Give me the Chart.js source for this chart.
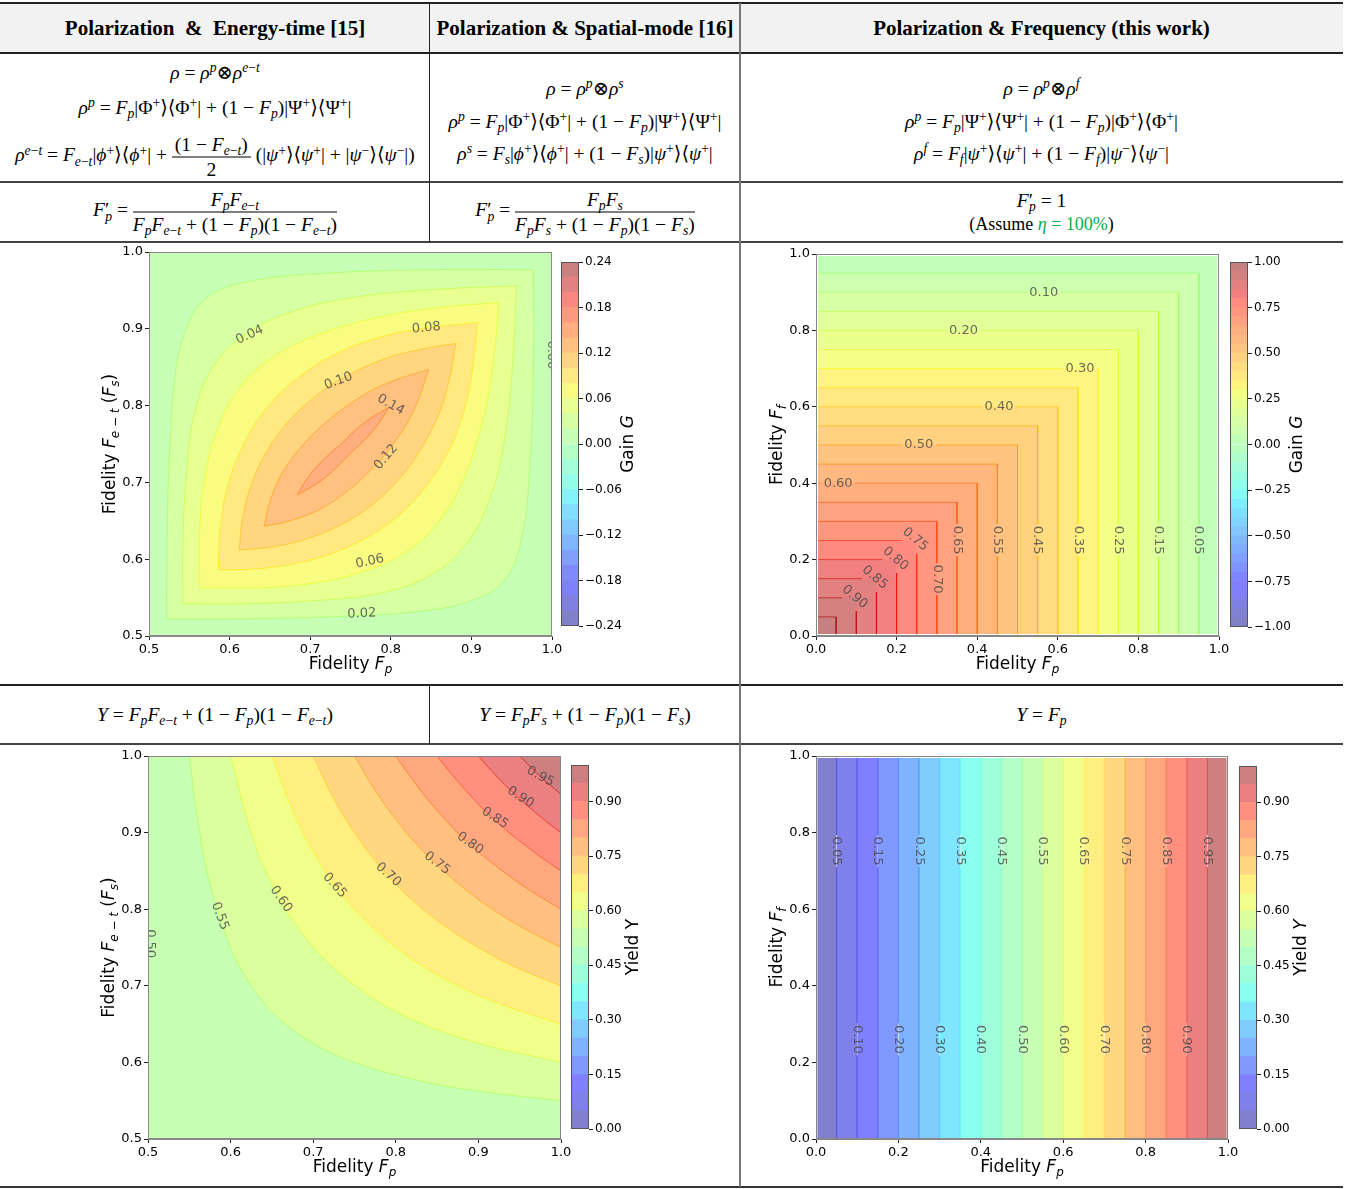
<!DOCTYPE html>
<html>
<head>
<meta charset="utf-8">
<script src="https://cdn.jsdelivr.net/npm/chart.js@4.4.0/dist/chart.umd.min.js"></script>
<style>
  body { margin: 0; background: #fff; }
  #fig { position: relative; width: 1361px; height: 1189px; background: #fff; overflow: hidden; }
  .ln { position: absolute; transform: translateY(-50%); text-align: center; white-space: nowrap; }
  .hd { font-family: "Liberation Serif", "DejaVu Serif", serif; font-weight: bold; font-size: 21px; }
  .eq { font-family: "Liberation Serif", "DejaVu Serif", serif; font-size: 19.5px; color: #000; }
  .eq sup, .eq sub { font-size: 70%; line-height: 0; position: relative; vertical-align: baseline; }
  .eq sup { top: -0.5em; }
  .eq sub { top: 0.3em; }
  .frac { display: inline-flex; flex-direction: column; vertical-align: middle; text-align: center; }
  .frac > span:first-child { border-bottom: 1px solid #000; padding: 0 3px 1px; }
  .frac > span:last-child { padding-top: 1px; }
  .hl { position: absolute; left: 0; width: 1343px; }
  .vl { position: absolute; }
  canvas { position: absolute; }
</style>
</head>
<body>
<div id="fig">
  <!-- table lines -->
  <div class="hl" style="top:4px;height:48px;background:#f2f2f2"></div>
  <div class="hl" style="top:2px;height:2px;background:#222"></div>
  <div class="hl" style="top:52px;height:2px;background:#222"></div>
  <div class="hl" style="top:181px;height:2px;background:#444"></div>
  <div class="hl" style="top:241px;height:2px;background:#444"></div>
  <div class="hl" style="top:684px;height:2px;background:#222"></div>
  <div class="hl" style="top:743px;height:2px;background:#444"></div>
  <div class="hl" style="top:1186px;height:2px;background:#333"></div>
  <div class="vl" style="left:429px;top:3px;width:1px;height:240px;background:#222"></div>
  <div class="vl" style="left:429px;top:685px;width:1px;height:59px;background:#222"></div>
  <div class="vl" style="left:739px;top:3px;width:2px;height:1184px;background:#777"></div>

  <!-- header -->
  <div class="ln hd" style="left:0;width:430px;top:28px">Polarization&nbsp; &amp;&nbsp; Energy-time [15]</div>
  <div class="ln hd" style="left:430px;width:310px;top:28px">Polarization &amp; Spatial-mode [16]</div>
  <div class="ln hd" style="left:740px;width:603px;top:28px">Polarization &amp; Frequency (this work)</div>

  <!-- density matrices -->
  <div class="ln eq" style="left:0;width:430px;top:72px"><i>ρ</i> = <i>ρ</i><sup><i>p</i></sup>⊗<i>ρ</i><sup><i>e</i>−<i>t</i></sup></div>
  <div class="ln eq" style="left:0;width:430px;top:107px"><i>ρ</i><sup><i>p</i></sup> = <i>F</i><sub><i>p</i></sub>|Φ<sup>+</sup>⟩⟨Φ<sup>+</sup>| + (1 − <i>F</i><sub><i>p</i></sub>)|Ψ<sup>+</sup>⟩⟨Ψ<sup>+</sup>|</div>
  <div class="ln eq" style="left:0;width:430px;top:157px"><i>ρ</i><sup><i>e</i>−<i>t</i></sup> = <i>F</i><sub><i>e</i>−<i>t</i></sub>|<i>ϕ</i><sup>+</sup>⟩⟨<i>ϕ</i><sup>+</sup>| + <span class="frac"><span>(1 − <i>F</i><sub><i>e</i>−<i>t</i></sub>)</span><span>2</span></span> (|<i>ψ</i><sup>+</sup>⟩⟨<i>ψ</i><sup>+</sup>| + |<i>ψ</i><sup>−</sup>⟩⟨<i>ψ</i><sup>−</sup>|)</div>

  <div class="ln eq" style="left:430px;width:310px;top:88px"><i>ρ</i> = <i>ρ</i><sup><i>p</i></sup>⊗<i>ρ</i><sup><i>s</i></sup></div>
  <div class="ln eq" style="left:430px;width:310px;top:121px"><i>ρ</i><sup><i>p</i></sup> = <i>F</i><sub><i>p</i></sub>|Φ<sup>+</sup>⟩⟨Φ<sup>+</sup>| + (1 − <i>F</i><sub><i>p</i></sub>)|Ψ<sup>+</sup>⟩⟨Ψ<sup>+</sup>|</div>
  <div class="ln eq" style="left:430px;width:310px;top:153px"><i>ρ</i><sup><i>s</i></sup> = <i>F</i><sub><i>s</i></sub>|<i>ϕ</i><sup>+</sup>⟩⟨<i>ϕ</i><sup>+</sup>| + (1 − <i>F</i><sub><i>s</i></sub>)|<i>ψ</i><sup>+</sup>⟩⟨<i>ψ</i><sup>+</sup>|</div>

  <div class="ln eq" style="left:740px;width:603px;top:88px"><i>ρ</i> = <i>ρ</i><sup><i>p</i></sup>⊗<i>ρ</i><sup><i>f</i></sup></div>
  <div class="ln eq" style="left:740px;width:603px;top:121px"><i>ρ</i><sup><i>p</i></sup> = <i>F</i><sub><i>p</i></sub>|Ψ<sup>+</sup>⟩⟨Ψ<sup>+</sup>| + (1 − <i>F</i><sub><i>p</i></sub>)|Φ<sup>+</sup>⟩⟨Φ<sup>+</sup>|</div>
  <div class="ln eq" style="left:740px;width:603px;top:153px"><i>ρ</i><sup><i>f</i></sup> = <i>F</i><sub><i>f</i></sub>|<i>ψ</i><sup>+</sup>⟩⟨<i>ψ</i><sup>+</sup>| + (1 − <i>F</i><sub><i>f</i></sub>)|<i>ψ</i><sup>−</sup>⟩⟨<i>ψ</i><sup>−</sup>|</div>

  <!-- purified fidelity -->
  <div class="ln eq" style="left:0;width:430px;top:212px"><i>F</i>′<sub style="margin-left:-4px"><i>p</i></sub> = <span class="frac"><span><i>F</i><sub><i>p</i></sub><i>F</i><sub><i>e</i>−<i>t</i></sub></span><span><i>F</i><sub><i>p</i></sub><i>F</i><sub><i>e</i>−<i>t</i></sub> + (1 − <i>F</i><sub><i>p</i></sub>)(1 − <i>F</i><sub><i>e</i>−<i>t</i></sub>)</span></span></div>
  <div class="ln eq" style="left:430px;width:310px;top:212px"><i>F</i>′<sub style="margin-left:-4px"><i>p</i></sub> = <span class="frac"><span><i>F</i><sub><i>p</i></sub><i>F</i><sub><i>s</i></sub></span><span><i>F</i><sub><i>p</i></sub><i>F</i><sub><i>s</i></sub> + (1 − <i>F</i><sub><i>p</i></sub>)(1 − <i>F</i><sub><i>s</i></sub>)</span></span></div>
  <div class="ln eq" style="left:740px;width:603px;top:201px"><i>F</i>′<sub style="margin-left:-4px"><i>p</i></sub> = 1</div>
  <div class="ln eq" style="left:740px;width:603px;top:224px;font-size:18px">(Assume <span style="color:#00b050"><i>η</i> = 100%</span>)</div>

  <!-- yield -->
  <div class="ln eq" style="left:0;width:430px;top:715px"><i>Y</i> = <i>F</i><sub><i>p</i></sub><i>F</i><sub><i>e</i>−<i>t</i></sub> + (1 − <i>F</i><sub><i>p</i></sub>)(1 − <i>F</i><sub><i>e</i>−<i>t</i></sub>)</div>
  <div class="ln eq" style="left:430px;width:310px;top:715px"><i>Y</i> = <i>F</i><sub><i>p</i></sub><i>F</i><sub><i>s</i></sub> + (1 − <i>F</i><sub><i>p</i></sub>)(1 − <i>F</i><sub><i>s</i></sub>)</div>
  <div class="ln eq" style="left:740px;width:603px;top:715px"><i>Y</i> = <i>F</i><sub><i>p</i></sub></div>

  <!-- charts -->
  <canvas id="gainET" width="472" height="442" style="left:94px;top:242px"></canvas>
  <canvas id="gainETbar" width="80" height="384" style="left:561px;top:252px"></canvas>
  <canvas id="gainFreq" width="472" height="440" style="left:761px;top:244px"></canvas>
  <canvas id="gainFreqBar" width="80" height="385" style="left:1230px;top:252px"></canvas>
  <canvas id="yieldET" width="482" height="441" style="left:93px;top:746px"></canvas>
  <canvas id="yieldETbar" width="80" height="384" style="left:571px;top:755px"></canvas>
  <canvas id="yieldFreq" width="481" height="441" style="left:761px;top:746px"></canvas>
  <canvas id="yieldFreqBar" width="80" height="383" style="left:1239px;top:756px"></canvas>
</div>

<script>
// ---------- gain G, energy-time / spatial-mode (closed contours) ----------
const gainETLevels = [0.02, 0.04, 0.06, 0.08, 0.10, 0.12, 0.14];
const gainET02 = [[0.522,0.522],[0.522,0.575],[0.523,0.662],[0.526,0.749],[0.532,0.836],[0.545,0.897],[0.571,0.940],[0.625,0.962],[0.729,0.973],[0.852,0.977],[0.977,0.977],[0.977,0.977],[0.977,0.852],[0.973,0.729],[0.962,0.625],[0.940,0.571],[0.897,0.545],[0.836,0.532],[0.749,0.526],[0.662,0.523],[0.575,0.522],[0.522,0.522]];
const gainET04 = [[0.542,0.542],[0.542,0.618],[0.546,0.705],[0.555,0.783],[0.576,0.844],[0.613,0.888],[0.671,0.920],[0.749,0.940],[0.852,0.951],[0.956,0.956],[0.956,0.956],[0.951,0.852],[0.940,0.749],[0.920,0.671],[0.888,0.613],[0.844,0.576],[0.783,0.555],[0.705,0.546],[0.618,0.542],[0.542,0.542]];
const gainET06 = [[0.563,0.563],[0.563,0.640],[0.569,0.705],[0.584,0.766],[0.609,0.818],[0.646,0.857],[0.704,0.890],[0.790,0.916],[0.873,0.929],[0.934,0.934],[0.934,0.934],[0.929,0.873],[0.916,0.790],[0.890,0.704],[0.857,0.646],[0.818,0.609],[0.766,0.584],[0.705,0.569],[0.640,0.563],[0.563,0.563]];
const gainET08 = [[0.586,0.586],[0.588,0.640],[0.598,0.697],[0.617,0.749],[0.646,0.797],[0.687,0.838],[0.737,0.870],[0.790,0.890],[0.844,0.901],[0.908,0.908],[0.908,0.908],[0.901,0.844],[0.890,0.790],[0.870,0.737],[0.838,0.687],[0.797,0.646],[0.749,0.617],[0.697,0.598],[0.640,0.588],[0.586,0.586]];
const gainET10 = [[0.612,0.612],[0.616,0.653],[0.627,0.697],[0.646,0.740],[0.671,0.777],[0.704,0.810],[0.741,0.836],[0.790,0.860],[0.836,0.873],[0.881,0.881],[0.881,0.881],[0.873,0.836],[0.860,0.790],[0.836,0.741],[0.810,0.704],[0.777,0.671],[0.740,0.646],[0.697,0.627],[0.653,0.616],[0.612,0.612]];
const gainET12 = [[0.643,0.643],[0.650,0.675],[0.664,0.710],[0.687,0.744],[0.716,0.775],[0.753,0.805],[0.795,0.829],[0.847,0.847],[0.847,0.847],[0.829,0.795],[0.805,0.753],[0.775,0.716],[0.744,0.687],[0.710,0.664],[0.675,0.650],[0.643,0.643]];
const gainET14 = [[0.684,0.684],[0.695,0.703],[0.712,0.725],[0.737,0.749],[0.766,0.777],[0.798,0.798],[0.798,0.798],[0.777,0.766],[0.749,0.737],[0.725,0.712],[0.703,0.695],[0.684,0.684]];
const gainETLabelText = ['0.02', '0.04', '0.06', '0.08', '0.10', '0.12', '0.14', '0.00'];
const gainETLabelX = [0.764, 0.625, 0.774, 0.844, 0.735, 0.794, 0.800, 0.999];
const gainETLabelY = [0.529, 0.892, 0.597, 0.901, 0.832, 0.733, 0.801, 0.866];
const gainETLabelAngle = [-3, -25, -12, -5, -20, -50, 30, 90];
const gainETBands = [-0.24, -0.22, -0.20, -0.18, -0.16, -0.14, -0.12, -0.10, -0.08, -0.06, -0.04, -0.02, 0, 0.02, 0.04, 0.06, 0.08, 0.10, 0.12, 0.14, 0.16, 0.18, 0.20, 0.22, 0.24];
const gainETTicks = [-0.24, -0.18, -0.12, -0.06, 0, 0.06, 0.12, 0.18, 0.24];

// ---------- gain G, frequency (this work) ----------
const gainFreqLevels = [0.05, 0.10, 0.15, 0.20, 0.25, 0.30, 0.35, 0.40, 0.45, 0.50, 0.55, 0.60, 0.65, 0.70, 0.75, 0.80, 0.85, 0.90, 0.95];
const gainFreqEdges = [0.95, 0.90, 0.85, 0.80, 0.75, 0.70, 0.65, 0.60, 0.55, 0.50, 0.45, 0.40, 0.35, 0.30, 0.25, 0.20, 0.15, 0.10, 0.05];
const gainFreqLabelText = ['0.10', '0.20', '0.30', '0.40', '0.50', '0.60', '0.05', '0.15', '0.25', '0.35', '0.45', '0.55', '0.65', '0.70', '0.75', '0.80', '0.85', '0.90'];
const gainFreqLabelX = [0.565, 0.366, 0.655, 0.454, 0.255, 0.055, 0.95, 0.85, 0.75, 0.65, 0.55, 0.45, 0.35, 0.30, 0.246, 0.197, 0.146, 0.096];
const gainFreqLabelY = [0.90, 0.80, 0.70, 0.60, 0.50, 0.40, 0.251, 0.251, 0.251, 0.251, 0.251, 0.251, 0.251, 0.149, 0.253, 0.202, 0.153, 0.102];
const gainFreqLabelAngle = [0, 0, 0, 0, 0, 0, 90, 90, 90, 90, 90, 90, 90, 90, 40, 40, 40, 40];
const gainFreqBands = [-1, -0.95, -0.9, -0.85, -0.8, -0.75, -0.7, -0.65, -0.6, -0.55, -0.5, -0.45, -0.4, -0.35, -0.3, -0.25, -0.2, -0.15, -0.1, -0.05, 0, 0.05, 0.1, 0.15, 0.2, 0.25, 0.3, 0.35, 0.4, 0.45, 0.5, 0.55, 0.6, 0.65, 0.7, 0.75, 0.8, 0.85, 0.9, 0.95, 1];
const gainFreqTicks = [-1, -0.75, -0.5, -0.25, 0, 0.25, 0.5, 0.75, 1];

// ---------- yield Y, energy-time / spatial-mode ----------
const yieldETLevels = [0.55, 0.60, 0.65, 0.70, 0.75, 0.80, 0.85, 0.90, 0.95];
const yieldET55 = [[0.550,1.0],[0.560,0.917],[0.575,0.833],[0.600,0.750],[0.625,0.700],[0.658,0.658],[0.700,0.625],[0.750,0.600],[0.833,0.575],[0.917,0.560],[1.0,0.550]];
const yieldET60 = [[0.600,1.0],[0.625,0.900],[0.650,0.833],[0.680,0.778],[0.724,0.724],[0.778,0.680],[0.833,0.650],[0.900,0.625],[1.0,0.600]];
const yieldET65 = [[0.650,1.0],[0.675,0.929],[0.700,0.875],[0.735,0.819],[0.774,0.774],[0.819,0.735],[0.875,0.700],[0.929,0.675],[1.0,0.650]];
const yieldET70 = [[0.700,1.0],[0.725,0.944],[0.750,0.900],[0.780,0.857],[0.816,0.816],[0.857,0.780],[0.900,0.750],[0.944,0.725],[1.0,0.700]];
const yieldET75 = [[0.750,1.0],[0.775,0.955],[0.800,0.917],[0.825,0.885],[0.854,0.854],[0.885,0.825],[0.917,0.800],[0.955,0.775],[1.0,0.750]];
const yieldET80 = [[0.800,1.0],[0.825,0.962],[0.850,0.929],[0.887,0.887],[0.929,0.850],[0.962,0.825],[1.0,0.800]];
const yieldET85 = [[0.850,1.0],[0.875,0.967],[0.918,0.918],[0.967,0.875],[1.0,0.850]];
const yieldET90 = [[0.900,1.0],[0.920,0.976],[0.947,0.947],[0.976,0.920],[1.0,0.900]];
const yieldET95 = [[0.950,1.0],[0.962,0.987],[0.974,0.974],[0.987,0.962],[1.0,0.950]];
const yieldETLabelText = ['0.50', '0.55', '0.60', '0.65', '0.70', '0.75', '0.80', '0.85', '0.90', '0.95'];
const yieldETLabelX = [0.503, 0.587, 0.661, 0.726, 0.791, 0.850, 0.890, 0.920, 0.951, 0.975];
const yieldETLabelY = [0.755, 0.791, 0.813, 0.831, 0.845, 0.860, 0.886, 0.919, 0.946, 0.973];
const yieldETLabelAngle = [90, 70, 55, 48, 42, 38, 35, 33, 32, 28];

// ---------- yield Y, frequency (this work) ----------
const yieldFreqLevels = [0.05, 0.10, 0.15, 0.20, 0.25, 0.30, 0.35, 0.40, 0.45, 0.50, 0.55, 0.60, 0.65, 0.70, 0.75, 0.80, 0.85, 0.90, 0.95];
const yieldFreqEdges = [0.05, 0.10, 0.15, 0.20, 0.25, 0.30, 0.35, 0.40, 0.45, 0.50, 0.55, 0.60, 0.65, 0.70, 0.75, 0.80, 0.85, 0.90, 0.95];
const yieldFreqLabelText = ['0.05', '0.15', '0.25', '0.35', '0.45', '0.55', '0.65', '0.75', '0.85', '0.95', '0.10', '0.20', '0.30', '0.40', '0.50', '0.60', '0.70', '0.80', '0.90'];
const yieldFreqLabelX = [0.05, 0.15, 0.25, 0.35, 0.45, 0.55, 0.65, 0.75, 0.85, 0.95, 0.10, 0.20, 0.30, 0.40, 0.50, 0.60, 0.70, 0.80, 0.90];
const yieldFreqLabelY = [0.752, 0.752, 0.752, 0.752, 0.752, 0.752, 0.752, 0.752, 0.752, 0.752, 0.26, 0.26, 0.26, 0.26, 0.26, 0.26, 0.26, 0.26, 0.26];
const yieldBands = [0, 0.05, 0.1, 0.15, 0.2, 0.25, 0.3, 0.35, 0.4, 0.45, 0.5, 0.55, 0.6, 0.65, 0.7, 0.75, 0.8, 0.85, 0.9, 0.95, 1];
const yieldTicks = [0, 0.15, 0.3, 0.45, 0.6, 0.75, 0.9];

const etTicks = [0.5, 0.6, 0.7, 0.8, 0.9, 1.0];
const freqTicks = [0, 0.2, 0.4, 0.6, 0.8, 1.0];

// ---------- helpers ----------
const FONT = '"DejaVu Sans", sans-serif';
const JET_R = [[0, 0], [0.35, 0], [0.66, 1], [0.89, 1], [1, 0.5]];
const JET_G = [[0, 0], [0.125, 0], [0.375, 1], [0.64, 1], [0.91, 0], [1, 0]];
const JET_B = [[0, 0.5], [0.11, 1], [0.34, 1], [0.65, 0], [1, 0]];

function seg(pts, v) {
  for (let i = 1; i < pts.length; i++) {
    if (v <= pts[i][0]) {
      const [x0, y0] = pts[i - 1], [x1, y1] = pts[i];
      return y0 + (y1 - y0) * (v - x0) / (x1 - x0);
    }
  }
  return pts[pts.length - 1][1];
}
function jet(v) {
  v = Math.max(0, Math.min(1, v));
  return [seg(JET_R, v), seg(JET_G, v), seg(JET_B, v)];
}
// contourf colours: jet at alpha 0.5 over white
function bandColor(v, lo, hi) {
  const c = jet((v - lo) / (hi - lo)).map(k => Math.round(255 * (0.5 + 0.5 * k)));
  return `rgb(${c[0]},${c[1]},${c[2]})`;
}
function lineColor(v, lo, hi) {
  const c = jet((v - lo) / (hi - lo)).map(k => Math.round(255 * k));
  return `rgba(${c[0]},${c[1]},${c[2]},0.6)`;
}
const xy = arr => arr.map(p => ({x: p[0], y: p[1]}));
const GAP = {x: null, y: null};

function fillSet(data, fill, color, tension) {
  return {data, fill, backgroundColor: color, borderColor: 'rgba(0,0,0,0)', borderWidth: 0, pointRadius: 0, tension: tension || 0};
}
function lineSet(data, color, tension) {
  return {data, fill: false, borderColor: color, borderWidth: 1, pointRadius: 0, tension: tension || 0, spanGaps: false};
}

function drawRich(ctx, parts, cx, cy, size, angle) {
  ctx.save();
  ctx.translate(cx, cy);
  ctx.rotate(angle);
  ctx.textBaseline = 'middle';
  ctx.textAlign = 'left';
  ctx.fillStyle = '#000';
  const fontOf = p => (p[1].includes('i') ? 'italic ' : '') + (p[1].includes('s') ? Math.round(size * 0.7) : size) + 'px ' + FONT;
  let w = 0;
  parts.forEach(p => { ctx.font = fontOf(p); w += ctx.measureText(p[0]).width; });
  let x = -w / 2;
  parts.forEach(p => {
    ctx.font = fontOf(p);
    ctx.fillText(p[0], x, p[1].includes('s') ? size * 0.3 : 0);
    x += ctx.measureText(p[0]).width;
  });
  ctx.restore();
}

// contour labels (clabel look)
const labelPlugin = {
  id: 'contourLabels',
  afterDatasetsDraw(chart, args, opts) {
    if (!opts.text) return;
    const {ctx, chartArea: a, scales: {x, y}} = chart;
    ctx.save();
    ctx.beginPath();
    ctx.rect(a.left, a.top, a.width, a.height);
    ctx.clip();
    ctx.font = '13px ' + FONT;
    ctx.fillStyle = 'rgba(70,70,70,0.8)';
    ctx.textAlign = 'center';
    ctx.textBaseline = 'middle';
    opts.text.forEach((t, i) => {
      ctx.save();
      ctx.translate(x.getPixelForValue(opts.x[i]), y.getPixelForValue(opts.y[i]));
      ctx.rotate(opts.angle[i] * Math.PI / 180);
      ctx.fillText(t, 0, 0);
      ctx.restore();
    });
    ctx.restore();
  }
};

// axes frame + rich axis titles
const framePlugin = {
  id: 'frame',
  afterDraw(chart, args, opts) {
    const {ctx, chartArea: a} = chart;
    ctx.save();
    ctx.strokeStyle = opts.color || '#888';
    ctx.lineWidth = 1;
    ctx.strokeRect(a.left + 0.5, a.top + 0.5, a.width - 1, a.height - 1);
    ctx.restore();
    if (opts.xTitle) drawRich(ctx, opts.xTitle, (a.left + a.right) / 2, a.bottom + 29, 17, 0);
    if (opts.yTitle) drawRich(ctx, opts.yTitle, a.left - 38, (a.top + a.bottom) / 2, 17, -Math.PI / 2);
    if (opts.cbTitle) drawRich(ctx, opts.cbTitle, a.right + (opts.cbGap || 49), (a.top + a.bottom) / 2, 17, -Math.PI / 2);
  }
};

const tickFont = {family: FONT, size: 13};
const cbTickFont = {family: FONT, size: 12};

function makePlot(id, datasets, range, ticks, yTitle, labels) {
  const axis = (which) => ({
    type: 'linear', min: range[0], max: range[1],
    afterBuildTicks: s => { s.ticks = ticks.map(v => ({value: v})); },
    afterFit: s => { if (which === 'x') s.height = 48; else s.width = 55; },
    grid: {drawOnChartArea: false, tickLength: 4, color: '#222'},
    border: {color: '#888'},
    ticks: {font: tickFont, color: '#000', padding: 2, autoSkip: false, maxRotation: 0, callback: v => Number(v).toFixed(1)}
  });
  return new Chart(document.getElementById(id), {
    type: 'line',
    data: {datasets},
    options: {
      responsive: false, animation: false, events: [],
      layout: {padding: {top: 10, right: 14, left: 0, bottom: 0}},
      plugins: {
        legend: {display: false}, tooltip: {enabled: false},
        contourLabels: labels,
        frame: {xTitle: [['Fidelity ', 'n'], ['F', 'i'], ['p', 'is']], yTitle}
      },
      scales: {x: axis('x'), y: axis('y')}
    },
    plugins: [labelPlugin, framePlugin]
  });
}

function makeColorbar(id, bands, ticks, title, gap) {
  const lo = bands[0], hi = bands[bands.length - 1];
  const datasets = [];
  for (let i = 0; i < bands.length - 1; i++) {
    datasets.push({
      data: [[bands[i], bands[i + 1]]],
      backgroundColor: bandColor((bands[i] + bands[i + 1]) / 2, lo, hi),
      borderWidth: 0, barPercentage: 1, categoryPercentage: 1
    });
  }
  const fmt = v => (v < 0 ? '−' : '') + Math.abs(v).toFixed(2);
  return new Chart(document.getElementById(id), {
    type: 'bar',
    data: {labels: [''], datasets},
    options: {
      responsive: false, animation: false, events: [],
      layout: {padding: {top: 10, bottom: 10, left: 0, right: 17}},
      plugins: {legend: {display: false}, tooltip: {enabled: false}, frame: {color: '#555', cbTitle: title, cbGap: gap}},
      scales: {
        x: {stacked: true, display: false},
        y: {
          position: 'right', min: lo, max: hi,
          afterBuildTicks: s => { s.ticks = ticks.map(v => ({value: v})); },
          afterFit: s => { s.width = 45; },
          grid: {drawOnChartArea: false, tickLength: 4, color: '#222'},
          border: {display: false},
          ticks: {font: cbTickFont, color: '#000', padding: 2, autoSkip: false, callback: fmt}
        }
      }
    },
    plugins: [framePlugin]
  });
}

// ---------- chart 1: gain, energy-time ----------
(function () {
  const lo = -0.24, hi = 0.24;
  const shapes = [gainET02, gainET04, gainET06, gainET08, gainET10, gainET12, gainET14];
  const ds = [];
  for (let i = shapes.length - 1; i >= 0; i--) {
    const lev = gainETLevels[i];
    ds.push({data: xy(shapes[i]), fill: 'shape', backgroundColor: bandColor(lev + 0.01, lo, hi),
      borderColor: lineColor(lev, lo, hi), borderWidth: 1, pointRadius: 0, tension: 0.4});
  }
  ds.push(fillSet([{x: 0.5, y: 0.5}, {x: 1, y: 0.5}], 'end', bandColor(0.01, lo, hi)));
  makePlot('gainET', ds, [0.5, 1.0], etTicks,
    [['Fidelity ', 'n'], ['F', 'i'], ['e − t', 'is'], [' (', 'n'], ['F', 'i'], ['s', 'is'], [')', 'n']],
    {text: gainETLabelText, x: gainETLabelX, y: gainETLabelY, angle: gainETLabelAngle});
  makeColorbar('gainETbar', gainETBands, gainETTicks, [['Gain ', 'n'], ['G', 'i']], 50);
})();

// ---------- chart 2: gain, frequency ----------
(function () {
  const lo = -1, hi = 1, r0 = 0.005, r1 = 0.995, g = 0.042;
  const lines = [], fills = [];
  gainFreqLevels.forEach((lev, i) => {
    const t = gainFreqEdges[i];
    const k = gainFreqLabelText.indexOf(lev.toFixed(2));
    let pts;
    if (k < 0) pts = [{x: r0, y: t}, {x: t, y: t}, {x: t, y: r0}];
    else if (gainFreqLabelAngle[k] === 0) {
      const lx = gainFreqLabelX[k];
      pts = [{x: r0, y: t}, {x: Math.max(r0, lx - g), y: t}, GAP, {x: lx + g, y: t}, {x: t, y: t}, {x: t, y: r0}];
    } else if (gainFreqLabelAngle[k] === 90) {
      const ly = gainFreqLabelY[k];
      pts = [{x: r0, y: t}, {x: t, y: t}, {x: t, y: ly + g}, GAP, {x: t, y: ly - g}, {x: t, y: r0}];
    } else {
      pts = [{x: r0, y: t}, {x: t - 0.035, y: t}, GAP, {x: t, y: t - 0.035}, {x: t, y: r0}];
    }
    lines.push(lineSet(pts, lineColor(lev, lo, hi)));
    fills.push(fillSet([{x: r0, y: t}, {x: t, y: t}, {x: t, y: r0}], {value: r0}, bandColor(lev + 0.025, lo, hi)));
  });
  // innermost square (highest gain) must sit on top: first dataset is drawn last
  const ds = lines.concat(fills.reverse());
  ds.push(fillSet([{x: r0, y: r1}, {x: r1, y: r1}], {value: r0}, bandColor(0.025, lo, hi)));
  makePlot('gainFreq', ds, [0, 1], freqTicks,
    [['Fidelity ', 'n'], ['F', 'i'], ['f', 'is']],
    {text: gainFreqLabelText, x: gainFreqLabelX, y: gainFreqLabelY, angle: gainFreqLabelAngle});
  makeColorbar('gainFreqBar', gainFreqBands, gainFreqTicks, [['Gain ', 'n'], ['G', 'i']], 50);
})();

// ---------- chart 3: yield, energy-time ----------
(function () {
  const lo = 0, hi = 1;
  const curves = [yieldET55, yieldET60, yieldET65, yieldET70, yieldET75, yieldET80, yieldET85, yieldET90, yieldET95];
  const ds = [];
  for (let i = curves.length - 1; i >= 0; i--) {
    const lev = yieldETLevels[i];
    ds.push({data: xy(curves[i]), fill: 'end', backgroundColor: bandColor(lev + 0.025, lo, hi),
      borderColor: lineColor(lev, lo, hi), borderWidth: 1, pointRadius: 0, tension: 0.4});
  }
  ds.push(fillSet([{x: 0.5, y: 0.5}, {x: 1, y: 0.5}], 'end', bandColor(0.525, lo, hi)));
  makePlot('yieldET', ds, [0.5, 1.0], etTicks,
    [['Fidelity ', 'n'], ['F', 'i'], ['e − t', 'is'], [' (', 'n'], ['F', 'i'], ['s', 'is'], [')', 'n']],
    {text: yieldETLabelText, x: yieldETLabelX, y: yieldETLabelY, angle: yieldETLabelAngle});
  makeColorbar('yieldETbar', yieldBands, yieldTicks, [['Yield Y', 'n']], 45);
})();

// ---------- chart 4: yield, frequency ----------
(function () {
  const lo = 0, hi = 1, r0 = 0.003, r1 = 0.997, top = 0.995, g = 0.042;
  const ds = [];
  yieldFreqLevels.forEach((lev, i) => {
    const e = yieldFreqEdges[i];
    const k = yieldFreqLabelText.indexOf(lev.toFixed(2));
    const ly = yieldFreqLabelY[k];
    ds.push(lineSet([{x: e, y: 0}, {x: e, y: ly - g}, GAP, {x: e, y: ly + g}, {x: e, y: top}], lineColor(lev, lo, hi)));
  });
  const stops = [r0].concat(yieldFreqEdges, [r1]);
  for (let i = 0; i < stops.length - 1; i++) {
    ds.push(fillSet([{x: stops[i], y: top}, {x: stops[i + 1], y: top}], {value: 0},
      bandColor(yieldBands[i] + 0.025, lo, hi)));
  }
  makePlot('yieldFreq', ds, [0, 1], freqTicks,
    [['Fidelity ', 'n'], ['F', 'i'], ['f', 'is']],
    {text: yieldFreqLabelText, x: yieldFreqLabelX, y: yieldFreqLabelY, angle: yieldFreqLabelText.map(() => 90)});
  makeColorbar('yieldFreqBar', yieldBands, yieldTicks, [['Yield ', 'n'], ['Y', 'i']], 45);
})();
</script>
</body>
</html>
